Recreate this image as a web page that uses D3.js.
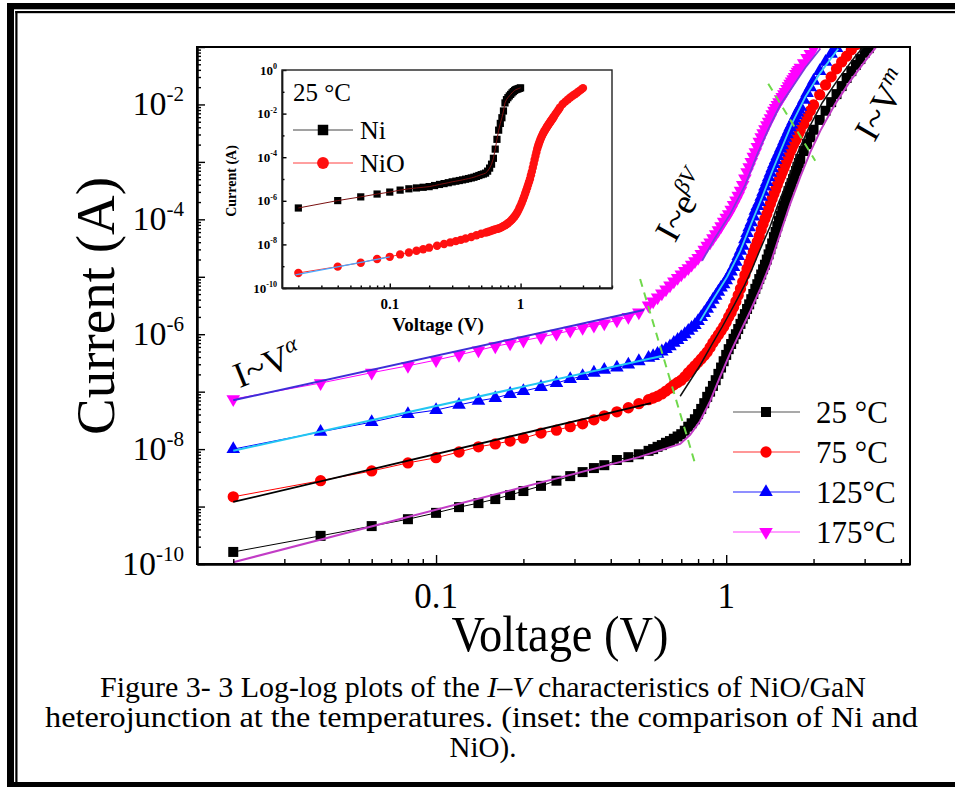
<!DOCTYPE html>
<html>
<head>
<meta charset="utf-8">
<script src="https://cdn.jsdelivr.net/npm/d3@7"></script>
<style>
  html, body { margin: 0; padding: 0; background: #fff; }
</style>
</head>
<body>
<div id="chart"></div>
<script>
// bias voltages of the plotted points (V)
const voltage = [0.02,0.04,0.06,0.08,0.10,0.12,0.14,0.16,0.18,0.20,
  0.23,0.26,0.29,0.32,0.35,0.38,
  0.42,0.46,0.50,0.54,
  0.56,0.58,0.60,0.62,0.64,0.66,0.68,0.70,0.72,0.74,
  0.76,0.78,0.80,0.82,0.84,0.86,0.88,0.90,0.92,0.94,
  0.96,0.98,1.00,1.02,1.04,1.06,1.08,1.10,1.12,1.14,
  1.16,1.18,1.20,1.22,1.24,1.26,1.28,1.30,1.32,1.34,
  1.36,1.38,1.40,1.42,1.44,1.46,1.48,1.50,1.52,1.54,
  1.56,1.58,1.60,1.62,1.64,1.66,1.68,1.70,1.72,1.74,
  1.76,1.78,1.80,
  1.85,1.90,1.95,2.0,
  2.1,2.2,2.3,2.4,2.5,2.6,2.7,2.8,2.9,3.0,3.1,3.2];

// log10 of current (A) at each temperature
const lgI25 = [-9.79,-9.51,-9.34,-9.22,-9.11,-9.01,-8.94,-8.87,-8.80,-8.73,
  -8.64,-8.55,-8.47,-8.40,-8.33,-8.28,
  -8.19,-8.14,-8.09,-8.03,
  -8.00,-7.96,-7.93,-7.89,-7.86,-7.82,-7.78,-7.74,-7.68,-7.61,
  -7.55,-7.48,-7.39,-7.30,-7.20,-7.09,-7.00,-6.90,-6.80,-6.69,
  -6.58,-6.47,-6.36,-6.26,-6.17,-6.08,-6.00,-5.91,-5.82,-5.73,
  -5.65,-5.56,-5.48,-5.39,-5.30,-5.21,-5.13,-5.04,-4.96,-4.87,
  -4.79,-4.70,-4.61,-4.52,-4.42,-4.31,-4.22,-4.12,-4.03,-3.94,
  -3.85,-3.76,-3.68,-3.60,-3.51,-3.44,-3.37,-3.30,-3.23,-3.16,
  -3.09,-3.02,-2.95,
  -2.81,-2.69,-2.57,-2.44,
  -2.27,-2.11,-1.96,-1.82,-1.68,-1.54,-1.42,-1.31,-1.21,-1.10,-1.02,-0.93];
const lgI75 = [-8.83,-8.55,-8.38,-8.24,-8.15,-8.05,-7.96,-7.91,-7.86,-7.81,
  -7.72,-7.67,-7.61,-7.56,-7.49,-7.42,
  -7.35,-7.28,-7.21,-7.14,
  -7.11,-7.08,-7.04,-6.99,-6.94,-6.88,-6.84,-6.80,-6.74,-6.67,
  -6.61,-6.55,-6.49,-6.43,-6.37,-6.31,-6.23,-6.15,-6.08,-6.01,
  -5.94,-5.87,-5.79,-5.70,-5.62,-5.53,-5.43,-5.32,-5.21,-5.09,
  -4.97,-4.86,-4.76,-4.67,-4.57,-4.48,-4.39,-4.29,-4.18,-4.08,
  -3.99,-3.91,-3.82,-3.73,-3.64,-3.56,-3.48,-3.40,-3.32,-3.25,
  -3.18,-3.11,-3.04,-2.97,-2.90,-2.83,-2.77,-2.71,-2.66,-2.61,
  -2.55,-2.50,-2.44,
  -2.34,-2.22,-2.11,-2.01,
  -1.83,-1.66,-1.52,-1.38,-1.26,-1.16,-1.05,-0.96];
const lgI125 = [-8.00,-7.70,-7.53,-7.39,-7.32,-7.23,-7.16,-7.11,-7.04,-6.99,
  -6.92,-6.85,-6.78,-6.73,-6.67,-6.62,
  -6.58,-6.53,-6.47,-6.41,
  -6.38,-6.34,-6.30,-6.26,-6.21,-6.15,-6.10,-6.05,-6.00,-5.94,
  -5.89,-5.84,-5.77,-5.70,-5.63,-5.56,-5.48,-5.40,-5.33,-5.26,
  -5.19,-5.13,-5.06,-4.99,-4.91,-4.83,-4.74,-4.64,-4.55,-4.46,
  -4.35,-4.24,-4.14,-4.05,-3.95,-3.85,-3.77,-3.70,-3.61,-3.52,
  -3.43,-3.35,-3.27,-3.19,-3.11,-3.04,-2.97,-2.90,-2.84,-2.77,
  -2.71,-2.64,-2.58,-2.52,-2.46,-2.40,-2.35,-2.29,-2.24,-2.19,
  -2.14,-2.09,-2.04,
  -1.92,-1.80,-1.70,-1.59,
  -1.42,-1.26,-1.12,-1.02,-0.91];
const lgI175 = [-7.13,-6.85,-6.67,-6.55,-6.45,-6.36,-6.28,-6.21,-6.16,-6.11,
  -6.05,-5.99,-5.94,-5.89,-5.85,-5.81,
  -5.76,-5.70,-5.62,-5.50,
  -5.43,-5.36,-5.29,-5.22,-5.15,-5.08,-5.02,-4.96,-4.90,-4.85,
  -4.79,-4.73,-4.67,-4.60,-4.53,-4.46,-4.40,-4.33,-4.26,-4.19,
  -4.12,-4.04,-3.97,-3.91,-3.83,-3.75,-3.67,-3.59,-3.50,-3.40,
  -3.29,-3.18,-3.09,-3.00,-2.91,-2.83,-2.74,-2.65,-2.57,-2.50,
  -2.43,-2.36,-2.30,-2.24,-2.17,-2.11,-2.06,-2.01,-1.96,-1.91,
  -1.87,-1.82,-1.78,-1.73,-1.68,-1.64,-1.60,-1.56,-1.52,-1.47,
  -1.43,-1.40,-1.36,
  -1.28,-1.19,-1.12,-1.03,
  -0.91];
const tempLabels = ["25 °C", "75 °C", "125°C", "175°C"];

// fitted curves: voltage (V) and log10 current (A)
const fit25V = [0.02,0.5,0.694,0.751,0.813,0.881,0.953,1.032,1.118,1.21,1.31,1.418,1.535,1.662,1.80,1.949,2.11,2.376,2.677,3.015,3.397];
const fit25I = [-9.97,-8.14,-7.91,-7.75,-7.51,-7.16,-6.74,-6.33,-5.96,-5.60,-5.21,-4.78,-4.25,-3.73,-3.26,-2.83,-2.46,-1.99,-1.59,-1.24,-0.91];
const fit75LowV = [0.02, 0.55];
const fit75LowI = [-8.92, -7.20];
const fit75HighV = [0.694,0.751,0.813,0.895,0.969,1.066,1.154,1.229,1.31,1.418,1.511,1.636,1.757,1.918,2.143,2.433,2.808,3.04];
const fit75HighI = [-7.08,-6.81,-6.54,-6.17,-5.87,-5.49,-5.16,-4.86,-4.52,-4.12,-3.73,-3.30,-2.86,-2.43,-1.97,-1.56,-1.14,-0.95];
const fit125LowV = [0.02, 0.6];
const fit125LowI = [-8.03, -6.38];
const fit125HighV = [0.813,0.902,1.008,1.118,1.229,1.331,1.441,1.56,1.689,1.873,2.11,2.433];
const fit125HighI = [-5.77,-5.39,-5.00,-4.55,-4.03,-3.61,-3.16,-2.74,-2.32,-1.87,-1.45,-1.03];
const fit175LowV = [0.02, 0.52];
const fit175LowI = [-7.15, -5.58];
const fit175HighV = [0.826,0.916,1.032,1.163,1.289,1.418,1.535,1.689,1.873,2.11];
const fit175HighI = [-4.72,-4.32,-3.91,-3.40,-2.83,-2.36,-2.01,-1.70,-1.36,-1.03];

// green dashed region boundaries
const guideLowV = [0.505, 0.782];
const guideLowI = [-5.04, -8.26];
const guideHighV = [1.396, 2.027];
const guideHighI = [-1.64, -2.98];

// inset: Ni vs NiO at 25 °C
const insetNiV = [0.02,0.04,0.06,0.08,0.10,0.12,0.14,0.16,0.18,0.20,
  0.22,0.24,0.26,0.28,0.30,0.32,0.34,0.36,0.38,0.40,
  0.42,0.44,0.46,0.48,0.50,0.52,0.54,0.56,0.58,0.60,
  0.62,0.64,0.66,0.68,0.70,0.72,0.74,0.76,0.78,0.80,
  0.82,0.84,0.86,0.88,0.90,0.92,0.94,0.96,0.98,1.00];
const insetNiI = [-6.33,-5.99,-5.82,-5.69,-5.60,-5.51,-5.45,-5.41,-5.38,-5.35,
  -5.30,-5.25,-5.21,-5.17,-5.13,-5.10,-5.07,-5.04,-5.01,-4.98,
  -4.95,-4.92,-4.88,-4.84,-4.80,-4.77,-4.73,-4.64,-4.50,-4.32,
  -4.05,-3.63,-3.18,-2.76,-2.45,-2.19,-1.88,-1.51,-1.36,-1.27,
  -1.19,-1.12,-1.05,-0.99,-0.94,-0.90,-0.88,-0.86,-0.84,-0.82];
// NiO uses the main voltage list (up to 3.0 V)
const insetNiOI = [-9.31,-9.02,-8.84,-8.67,-8.57,-8.46,-8.37,-8.29,-8.22,-8.15,
  -8.06,-7.98,-7.91,-7.85,-7.79,-7.73,
  -7.66,-7.58,-7.51,-7.46,
  -7.43,-7.40,-7.37,-7.34,-7.31,-7.29,-7.27,-7.24,-7.20,-7.16,
  -7.12,-7.08,-7.03,-6.98,-6.92,-6.86,-6.79,-6.72,-6.64,-6.55,
  -6.45,-6.33,-6.22,-6.10,-5.97,-5.84,-5.70,-5.56,-5.42,-5.28,
  -5.14,-5.00,-4.83,-4.66,-4.48,-4.30,-4.12,-3.95,-3.78,-3.62,
  -3.50,-3.38,-3.28,-3.18,-3.09,-3.01,-2.94,-2.87,-2.81,-2.75,
  -2.70,-2.64,-2.59,-2.54,-2.49,-2.45,-2.40,-2.35,-2.31,-2.27,
  -2.22,-2.18,-2.13,
  -2.02,-1.92,-1.82,-1.72,
  -1.56,-1.45,-1.35,-1.26,-1.18,-1.11,-1.04,-0.97,-0.90,-0.83];
const insetNiOFitV = [0.019, 0.1];
const insetNiOFitI = [-9.40, -8.57];
const insetLabels = ["Ni", "NiO"];

// tick labels
const yTickExp = [-10, -8, -6, -4, -2];
const xTickVals = [0.1, 1];
const xTickText = ["0.1", "1"];
const insetYTickExp = [-10, -8, -6, -4, -2, 0];

const captionLines = [
  ["Figure 3- 3 Log-log plots of the ", "I–V", " characteristics of NiO/GaN"],
  ["heterojunction at the temperatures. (inset: the comparison of Ni and"],
  ["NiO)."]
];

// ---------------------------------------------------------------
const W = 955, H = 787;
const svg = d3.select("#chart").append("svg")
  .attr("width", W).attr("height", H)
  .attr("font-family", "Liberation Serif")
  .style("display", "block");
svg.append("rect").attr("width", W).attr("height", H).attr("fill", "#fff");

// page frame (double line top / left, thick bottom)
const frame = svg.append("g").attr("fill", "#000");
frame.append("rect").attr("x", 7).attr("y", 3).attr("width", W - 7).attr("height", 6.3);
frame.append("rect").attr("x", 15.3).attr("y", 11).attr("width", W - 15).attr("height", 2.2);
frame.append("rect").attr("x", 7).attr("y", 3).attr("width", 7).attr("height", H - 3);
frame.append("rect").attr("x", 15.3).attr("y", 11).attr("width", 2.2).attr("height", H - 11);
frame.append("rect").attr("x", 7).attr("y", 782).attr("width", W - 7).attr("height", 6);

const toPts = (vs, ls) => ls.map((l, k) => [vs[k], Math.pow(10, l)]);

// ---------------- main plot ----------------
const m = {left: 197, right: 910, top: 47, bottom: 564};
const x = d3.scaleLog().domain([0.015, 4.3]).range([m.left, m.right]);
const y = d3.scaleLog().domain([1e-10, 1e-1]).range([m.bottom, m.top]);
const line = d3.line().x(d => x(d[0])).y(d => y(d[1]));

svg.append("clipPath").attr("id", "clipMain").append("rect")
  .attr("x", m.left).attr("y", m.top)
  .attr("width", m.right - m.left).attr("height", m.bottom - m.top);

const plotG = svg.append("g").attr("clip-path", "url(#clipMain)");

const series = [
  {lg: lgI25,  color: "#000000", symbol: d3.symbolSquare,   size: 100, rot: 0,   legLine: "#555"},
  {lg: lgI75,  color: "#ff0000", symbol: d3.symbolCircle,   size: 100, rot: 0,   legLine: "#ff3030"},
  {lg: lgI125, color: "#0000ff", symbol: d3.symbolTriangle, size: 80,  rot: 0,   legLine: "#2020ff"},
  {lg: lgI175, color: "#ff00ff", symbol: d3.symbolTriangle, size: 80,  rot: 180, legLine: "#ff40ff"}
];

series.forEach(s => {
  const data = toPts(voltage, s.lg);
  plotG.append("path").attr("d", line(data))
    .attr("fill", "none").attr("stroke", s.color).attr("stroke-width", 1);
  plotG.append("g").selectAll("path").data(data).join("path")
    .attr("d", d3.symbol(s.symbol, s.size))
    .attr("transform", d => `translate(${x(d[0])},${y(d[1])}) rotate(${s.rot})`)
    .attr("fill", s.color);
});

// fit lines on top of the markers
const fits = [
  {v: fit25V,      l: fit25I,      color: "#c23cc6", w: 2},
  {v: fit75LowV,   l: fit75LowI,   color: "#000",    w: 1.8},
  {v: fit75HighV,  l: fit75HighI,  color: "#111",    w: 1.5},
  {v: fit125LowV,  l: fit125LowI,  color: "#22c6f2", w: 2},
  {v: fit125HighV, l: fit125HighI, color: "#3fd0f5", w: 1.8},
  {v: fit175LowV,  l: fit175LowI,  color: "#3d2ed8", w: 2},
  {v: fit175HighV, l: fit175HighI, color: "#7c3cdc", w: 1.8}
];
fits.forEach(f => {
  plotG.append("path").attr("d", line(toPts(f.v, f.l)))
    .attr("fill", "none").attr("stroke", f.color).attr("stroke-width", f.w);
});

// dashed guides
[[guideLowV, guideLowI], [guideHighV, guideHighI]].forEach(g => {
  plotG.append("path").attr("d", line(toPts(g[0], g[1])))
    .attr("fill", "none").attr("stroke", "#6fd84a").attr("stroke-width", 2)
    .attr("stroke-dasharray", "8,6");
});

// axes
const yMajor = d3.range(-10, 0).map(e => Math.pow(10, e));
const yMinor = [];
d3.range(-10, -1).forEach(e => { for (let k = 2; k <= 9; k++) yMinor.push(k * Math.pow(10, e)); });
const xMinor = [0.02,0.03,0.04,0.05,0.06,0.07,0.08,0.09,0.2,0.3,0.4,0.5,0.6,0.7,0.8,0.9,2,3,4];

function styleAxis(g, w) {
  g.select(".domain").attr("stroke-width", w);
  g.selectAll(".tick line").attr("stroke-width", 1.4);
}
const axG = svg.append("g");
axG.append("g").attr("transform", `translate(${m.left},0)`)
  .call(d3.axisLeft(y).tickValues(yMinor).tickSize(-4).tickSizeOuter(0).tickFormat(""))
  .call(g => styleAxis(g, 2));
axG.append("g").attr("transform", `translate(${m.left},0)`)
  .call(d3.axisLeft(y).tickValues(yMajor).tickSize(-8).tickSizeOuter(0).tickFormat(""))
  .call(g => styleAxis(g, 2));
axG.append("g").attr("transform", `translate(0,${m.bottom})`)
  .call(d3.axisBottom(x).tickValues(xMinor).tickSize(-5).tickSizeOuter(0).tickFormat(""))
  .call(g => styleAxis(g, 2));
axG.append("g").attr("transform", `translate(0,${m.bottom})`)
  .call(d3.axisBottom(x).tickValues(xTickVals).tickSize(-9).tickSizeOuter(0).tickFormat(""))
  .call(g => styleAxis(g, 2));
svg.append("rect").attr("x", m.left).attr("y", m.top)
  .attr("width", m.right - m.left).attr("height", m.bottom - m.top)
  .attr("fill", "none").attr("stroke", "#000").attr("stroke-width", 2);

function powLabel(g, px, py, exp, size, anchor, weight) {
  const t = g.append("text").attr("x", px).attr("y", py)
    .attr("text-anchor", anchor).attr("font-size", size)
    .attr("font-weight", weight || "normal");
  t.append("tspan").text("10");
  t.append("tspan").attr("dy", -size * 0.42).attr("font-size", size * 0.62).text(exp);
  return t;
}

yTickExp.forEach(e => powLabel(svg, 184, y(Math.pow(10, e)) + 11, e, 34, "end"));
xTickVals.forEach((v, k) => {
  svg.append("text").attr("x", x(v)).attr("y", 608)
    .attr("text-anchor", "middle").attr("font-size", 35).text(xTickText[k]);
});

svg.append("text").attr("transform", "translate(114,306) rotate(-90)")
  .attr("text-anchor", "middle").attr("font-size", 54)
  .attr("textLength", 258).attr("lengthAdjust", "spacingAndGlyphs")
  .text("Current (A)");
svg.append("text").attr("x", 560).attr("y", 651)
  .attr("text-anchor", "middle").attr("font-size", 50)
  .attr("textLength", 217).attr("lengthAdjust", "spacingAndGlyphs")
  .text("Voltage (V)");

// region annotations
function ann(xc, yc, angle, base, sup) {
  const t = svg.append("text")
    .attr("transform", `translate(${xc},${yc}) rotate(${angle}) translate(0,10)`)
    .attr("text-anchor", "middle").attr("font-size", 36);
  t.append("tspan").text(base);
  t.append("tspan").attr("dy", -14).attr("font-size", 23).attr("font-style", "italic").text(sup);
}
ann(268, 366, -22, "I~V", "α");
ann(684, 207, -61, "I~e", "βV");
ann(884, 106, -60, "I~V", "m");

// legend
const leg = svg.append("g");
series.forEach((s, k) => {
  const ly = 412 + k * 40;
  leg.append("line").attr("x1", 733).attr("x2", 800).attr("y1", ly).attr("y2", ly)
    .attr("stroke", s.legLine).attr("stroke-width", 1.2);
  leg.append("path").attr("d", d3.symbol(s.symbol, s.size))
    .attr("transform", `translate(766,${ly}) rotate(${s.rot})`).attr("fill", s.color);
  leg.append("text").attr("x", 816).attr("y", ly + 11).attr("font-size", 31).text(tempLabels[k]);
});

// ---------------- inset ----------------
const ib = {left: 282, right: 612, top: 70, bottom: 288};
const xi = d3.scaleLog().domain([0.015, 5]).range([ib.left, ib.right]);
const yi = d3.scaleLog().domain([1e-10, 1]).range([ib.bottom, ib.top]);
const lineI = d3.line().x(d => xi(d[0])).y(d => yi(d[1]));

svg.append("rect").attr("x", ib.left).attr("y", ib.top)
  .attr("width", ib.right - ib.left).attr("height", ib.bottom - ib.top).attr("fill", "#fff");
svg.append("clipPath").attr("id", "clipInset").append("rect")
  .attr("x", ib.left).attr("y", ib.top)
  .attr("width", ib.right - ib.left).attr("height", ib.bottom - ib.top);
const inG = svg.append("g").attr("clip-path", "url(#clipInset)");

const niData = toPts(insetNiV, insetNiI);
const nioData = toPts(voltage, insetNiOI);
inG.append("path").attr("d", lineI(nioData)).attr("fill", "none").attr("stroke", "#ff3030").attr("stroke-width", 1);
inG.append("g").selectAll("path").data(nioData).join("path")
  .attr("d", d3.symbol(d3.symbolCircle, 55))
  .attr("transform", d => `translate(${xi(d[0])},${yi(d[1])})`).attr("fill", "#ff1010");
inG.append("path").attr("d", lineI(toPts(insetNiOFitV, insetNiOFitI)))
  .attr("fill", "none").attr("stroke", "#4aa8ff").attr("stroke-width", 1.3);
inG.append("g").selectAll("path").data(niData).join("path")
  .attr("d", d3.symbol(d3.symbolSquare, 52))
  .attr("transform", d => `translate(${xi(d[0])},${yi(d[1])})`).attr("fill", "#000");
inG.append("path").attr("d", lineI(niData)).attr("fill", "none").attr("stroke", "#7a1010").attr("stroke-width", 1);

const iyMajor = insetYTickExp.map(e => Math.pow(10, e));
const iyMinor = [-9, -7, -5, -3, -1].map(e => Math.pow(10, e));
const ixMinor = [0.02,0.03,0.04,0.05,0.06,0.07,0.08,0.09,0.2,0.3,0.4,0.5,0.6,0.7,0.8,0.9,2,3,4,5];
svg.append("g").attr("transform", `translate(${ib.left},0)`)
  .call(d3.axisLeft(yi).tickValues(iyMinor).tickSize(-2.5).tickSizeOuter(0).tickFormat(""))
  .call(g => styleAxis(g, 1.4));
svg.append("g").attr("transform", `translate(${ib.left},0)`)
  .call(d3.axisLeft(yi).tickValues(iyMajor).tickSize(-4.5).tickSizeOuter(0).tickFormat(""))
  .call(g => styleAxis(g, 1.4));
svg.append("g").attr("transform", `translate(0,${ib.bottom})`)
  .call(d3.axisBottom(xi).tickValues(ixMinor).tickSize(-2.5).tickSizeOuter(0).tickFormat(""))
  .call(g => styleAxis(g, 1.4));
svg.append("g").attr("transform", `translate(0,${ib.bottom})`)
  .call(d3.axisBottom(xi).tickValues(xTickVals).tickSize(-4.5).tickSizeOuter(0).tickFormat(""))
  .call(g => styleAxis(g, 1.4));
svg.append("rect").attr("x", ib.left).attr("y", ib.top)
  .attr("width", ib.right - ib.left).attr("height", ib.bottom - ib.top)
  .attr("fill", "none").attr("stroke", "#222").attr("stroke-width", 1.4);

insetYTickExp.forEach(e => powLabel(svg, 277, yi(Math.pow(10, e)) + 4.5, e, 13, "end", "bold"));
xTickVals.forEach((v, k) => {
  svg.append("text").attr("x", xi(v)).attr("y", 309).attr("text-anchor", "middle")
    .attr("font-size", 15).attr("font-weight", "bold").text(xTickText[k]);
});
svg.append("text").attr("x", 438).attr("y", 331).attr("text-anchor", "middle")
  .attr("font-size", 19).attr("font-weight", "bold").text("Voltage (V)");
svg.append("text").attr("transform", "translate(236,181) rotate(-90)")
  .attr("text-anchor", "middle").attr("font-size", 14).attr("font-weight", "bold")
  .text("Current (A)");

// inset legend
svg.append("text").attr("x", 293).attr("y", 101).attr("font-size", 25).text(tempLabels[0]);
const insetLeg = [
  {y: 130, color: "#000", line: "#444", symbol: d3.symbolSquare},
  {y: 163, color: "#ff1010", line: "#ff4040", symbol: d3.symbolCircle}
];
insetLeg.forEach((r, k) => {
  svg.append("line").attr("x1", 293).attr("x2", 353).attr("y1", r.y).attr("y2", r.y)
    .attr("stroke", r.line).attr("stroke-width", 1);
  svg.append("path").attr("d", d3.symbol(r.symbol, 110))
    .attr("transform", `translate(323,${r.y})`).attr("fill", r.color);
  svg.append("text").attr("x", 360).attr("y", r.y + 8.5).attr("font-size", 26).text(insetLabels[k]);
});

// ---------------- caption ----------------
const capG = svg.append("g").attr("font-size", 29);
const l1 = capG.append("text").attr("x", 100).attr("y", 697)
  .attr("textLength", 766).attr("lengthAdjust", "spacingAndGlyphs");
l1.append("tspan").text(captionLines[0][0]);
l1.append("tspan").attr("font-style", "italic").text(captionLines[0][1]);
l1.append("tspan").text(captionLines[0][2]);
capG.append("text").attr("x", 45).attr("y", 727)
  .attr("textLength", 873).attr("lengthAdjust", "spacingAndGlyphs").text(captionLines[1][0]);
capG.append("text").attr("x", 483).attr("y", 757).attr("text-anchor", "middle").text(captionLines[2][0]);
</script>
</body>
</html>
